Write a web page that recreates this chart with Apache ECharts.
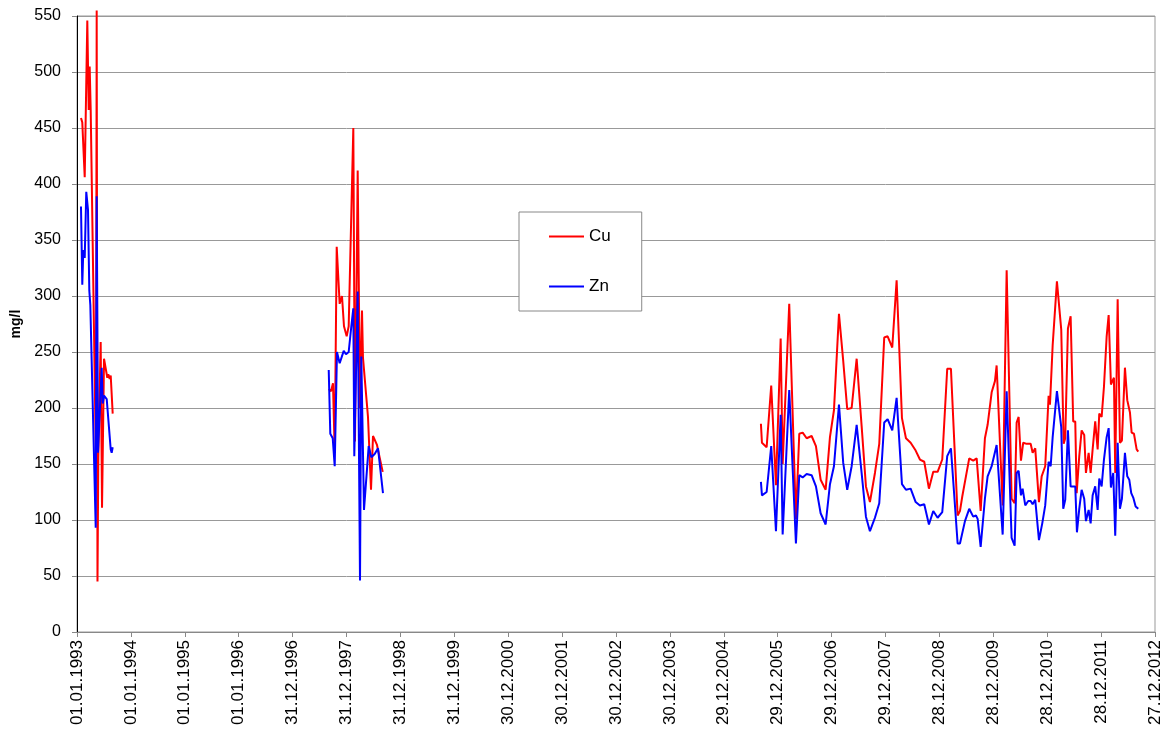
<!DOCTYPE html>
<html>
<head>
<meta charset="utf-8">
<script src="https://cdn.jsdelivr.net/npm/echarts@6/dist/echarts.min.js"></script>
<style>
html,body{margin:0;padding:0;background:#fff;}
#chart{width:1172px;height:738px;}
</style>
</head>
<body>
<div id="chart"></div>
<script>
// Sampling times as decimal years; null value = gap between campaigns
const cuYears = [
  1993.074,1993.098,1993.143,1993.191,1993.217,1993.235,1993.254,1993.352,1993.365,1993.380,
  1993.395,1993.439,1993.464,1993.501,1993.562,1993.580,1993.606,1993.625,1993.662,
  1995.5,
  1997.667,1997.709,1997.746,1997.778,1997.815,1997.870,1997.913,1997.950,1998.000,1998.037,
  1998.123,1998.154,1998.204,1998.247,1998.284,1998.302,1998.395,1998.451,1998.488,1998.562,1998.668,
  2001.5,
  2005.680,2005.699,2005.786,2005.871,2005.959,2006.046,2006.083,2006.205,2006.329,2006.391,
  2006.454,2006.528,2006.620,2006.700,2006.787,2006.880,2006.960,2007.034,2007.127,2007.206,
  2007.280,2007.362,2007.455,2007.547,2007.627,2007.701,2007.794,2007.874,2007.966,2008.029,
  2008.115,2008.196,2008.295,2008.369,2008.456,2008.549,2008.628,2008.708,2008.795,2008.875,
  2008.956,2009.042,2009.134,2009.203,2009.327,2009.370,2009.413,2009.481,2009.542,2009.616,
  2009.680,2009.754,2009.833,2009.883,2009.958,2010.019,2010.050,2010.162,2010.236,2010.328,
  2010.384,2010.421,2010.458,2010.501,2010.543,2010.607,2010.681,2010.718,2010.766,2010.835,
  2010.885,2010.951,2011.014,2011.039,2011.089,2011.126,2011.168,2011.248,2011.293,2011.322,
  2011.372,2011.422,2011.470,2011.508,2011.534,2011.582,2011.626,2011.674,2011.706,2011.756,
  2011.793,2011.830,2011.878,2011.923,2011.953,2011.997,2012.040,2012.090,2012.127,2012.169,
  2012.225,2012.249,2012.294,2012.336,2012.373,2012.429,2012.472,2012.522,2012.553,2012.596,
  2012.646,2012.676
];
const cuValues = [
  459,455,406,546,466,505,466,150,555,45,
  156,259,111,244,227,230,226,229,195,
  null,
  217,215,222,160,344,293,300,273,264,273,
  450,170,412,200,287,245,192,127,175,167,143,
  null,
  186,169,165,220,131,262,150,293,101,177,
  178,173,175,166,136,127,174,198,284,242,
  199,200,244,184,130,116,142,168,263,264,
  254,314,191,173,169,162,154,152,128,143,
  143,154,235,235,104,108,121,139,155,153,
  155,108,173,185,214,224,238,113,323,119,
  115,187,192,153,169,168,168,160,164,116,
  139,148,211,203,256,256,313,270,168,173,
  271,282,188,188,124,157,180,176,142,160,
  142,163,188,163,195,192,219,264,283,221,
  227,142,297,169,171,236,207,196,178,177,
  163,161
];
const znYears = [
  1993.074,1993.098,1993.117,1993.143,1993.172,1993.204,1993.228,1993.247,1993.347,1993.365,
  1993.389,1993.458,1993.477,1993.501,1993.551,1993.588,1993.625,1993.643,1993.662,
  1995.5,
  1997.667,1997.696,1997.741,1997.778,1997.820,1997.870,1997.900,1997.945,1997.987,1998.037,
  1998.086,1998.123,1998.141,1998.204,1998.247,1998.271,1998.321,1998.408,1998.456,1998.519,
  1998.581,1998.673,
  2001.5,
  2005.680,2005.699,2005.786,2005.871,2005.959,2006.046,2006.083,2006.205,2006.329,2006.391,
  2006.454,2006.528,2006.620,2006.700,2006.787,2006.880,2006.960,2007.034,2007.127,2007.206,
  2007.280,2007.362,2007.455,2007.547,2007.627,2007.701,2007.794,2007.874,2007.966,2008.029,
  2008.115,2008.196,2008.295,2008.369,2008.456,2008.549,2008.628,2008.708,2008.795,2008.875,
  2008.956,2009.042,2009.134,2009.203,2009.327,2009.370,2009.463,2009.542,2009.616,2009.667,
  2009.698,2009.754,2009.833,2009.883,2009.958,2010.050,2010.162,2010.236,2010.328,2010.384,
  2010.421,2010.458,2010.501,2010.532,2010.581,2010.636,2010.681,2010.718,2010.766,2010.835,
  2010.896,2010.951,2011.014,2011.052,2011.089,2011.126,2011.168,2011.248,2011.285,2011.322,
  2011.372,2011.422,2011.470,2011.508,2011.539,2011.582,2011.626,2011.674,2011.706,2011.756,
  2011.793,2011.830,2011.878,2011.923,2011.953,2011.997,2012.040,2012.090,2012.127,2012.169,
  2012.212,2012.249,2012.294,2012.336,2012.373,2012.429,2012.472,2012.509,2012.546,2012.583,
  2012.627,2012.676
];
const znValues = [
  380,310,341,334,393,377,305,292,93,389,
  160,236,204,211,208,208,163,160,165,
  null,
  234,177,173,148,250,240,241,251,248,250,
  273,289,157,304,46,246,109,166,156,159,
  164,124,
  null,
  134,122,125,166,90,194,87,216,79,140,
  138,141,140,130,106,96,132,148,203,151,
  127,148,185,142,103,90,102,115,187,190,
  180,209,132,127,128,116,113,114,96,108,
  102,107,157,164,79,79,99,110,103,104,
  101,76,119,139,148,167,87,215,84,77,
  142,144,122,128,113,117,117,114,118,82,
  97,113,152,148,174,174,215,183,110,118,
  180,130,130,130,89,110,127,119,99,109,
  97,122,130,109,137,130,154,174,182,129,
  142,86,169,110,119,160,139,136,124,120,
  112,110
];
const seriesNames = ['Cu', 'Zn'];
const yTicks = {min: 0, max: 550, step: 50};

const START = Date.UTC(1993, 0, 1);
const DAY = 86400000;
const toDays = y => (y - 1993) * 365.25;
const pair = (xs, vs) => xs.map((x, i) => [toDays(x), vs[i]]);
const pad = n => (n < 10 ? '0' : '') + n;
const fmtDate = v => {
  const d = new Date(START + Math.round(v) * DAY);
  return pad(d.getUTCDate()) + '.' + pad(d.getUTCMonth() + 1) + '.' + d.getUTCFullYear();
};

const chart = echarts.init(document.getElementById('chart'), null, {renderer: 'canvas'});
chart.setOption({
  animation: false,
  backgroundColor: '#fff',
  textStyle: {fontFamily: 'Liberation Sans, Arial, sans-serif'},
  grid: {left: 77, right: 17, top: 16, bottom: 106, show: true, borderColor: '#999', borderWidth: 1},
  legend: {
    orient: 'vertical',
    left: 519, top: 212,
    padding: [16, 31, 16, 30],
    icon: 'rect',
    itemWidth: 35, itemHeight: 2, itemGap: 33,
    backgroundColor: '#fff',
    borderColor: '#888', borderWidth: 1,
    textStyle: {fontSize: 17, color: '#000', lineHeight: 17},
    data: seriesNames
  },
  xAxis: {
    type: 'value',
    min: 0, max: 7300, interval: 365,
    axisLine: {show: true, lineStyle: {color: '#888', width: 1}},
    axisTick: {show: true, length: 5, lineStyle: {color: '#888'}},
    splitLine: {show: false},
    axisLabel: {rotate: 90, fontSize: 17, color: '#000', margin: 8, formatter: fmtDate, showMinLabel: true, showMaxLabel: true}
  },
  yAxis: {
    type: 'value',
    min: yTicks.min, max: yTicks.max, interval: yTicks.step,
    name: 'mg/l',
    nameLocation: 'middle',
    nameRotate: 90,
    nameGap: 48,
    nameTextStyle: {fontSize: 14, fontWeight: 'bold', color: '#000'},
    axisLine: {show: true, lineStyle: {color: '#000', width: 1}},
    axisTick: {show: true, length: 5, lineStyle: {color: '#888'}},
    splitLine: {show: true, lineStyle: {color: '#999', width: 1}},
    axisLabel: {fontSize: 16, color: '#000', margin: 16}
  },
  series: [
    {
      name: seriesNames[0], type: 'line', data: pair(cuYears, cuValues),
      symbol: 'none', connectNulls: false, clip: false,
      lineStyle: {color: '#ff0000', width: 2}, itemStyle: {color: '#ff0000'}
    },
    {
      name: seriesNames[1], type: 'line', data: pair(znYears, znValues),
      symbol: 'none', connectNulls: false, clip: false,
      lineStyle: {color: '#0000ff', width: 2}, itemStyle: {color: '#0000ff'}
    }
  ]
});
</script>
</body>
</html>
